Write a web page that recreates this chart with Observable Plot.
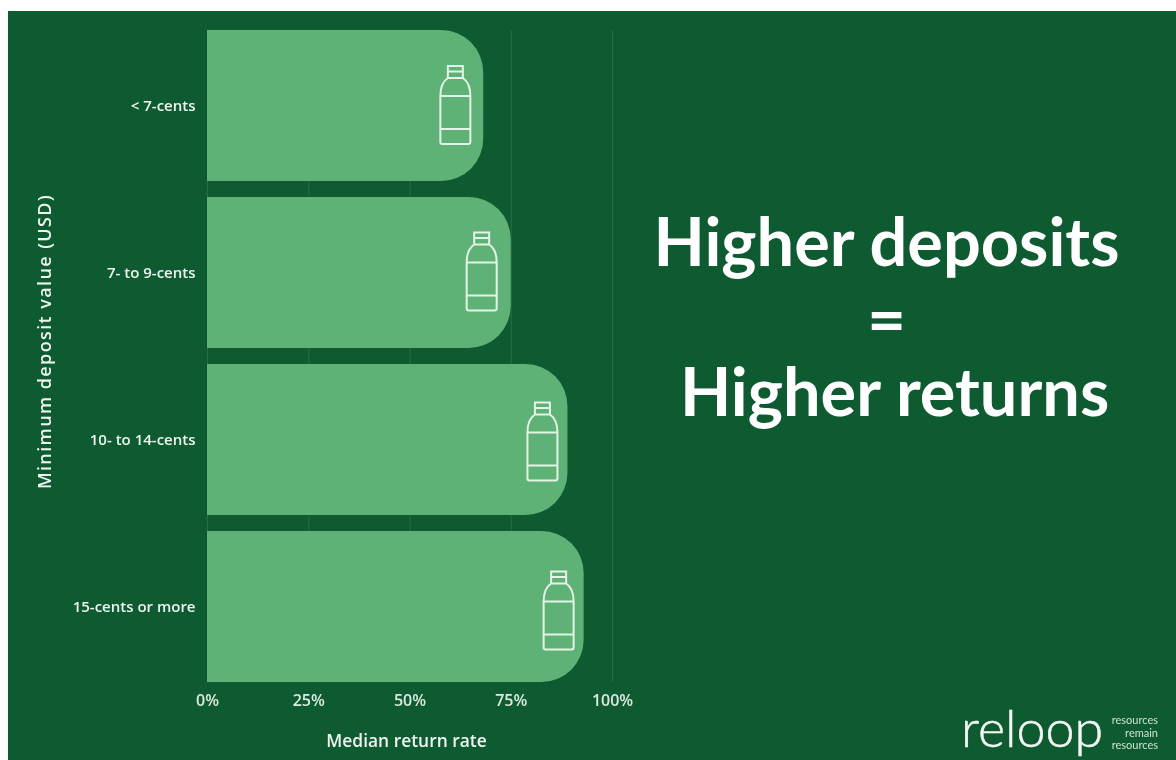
<!DOCTYPE html>
<html>
<head>
<meta charset="utf-8">
<script src="https://cdn.jsdelivr.net/npm/d3@7"></script>
<script src="https://cdn.jsdelivr.net/npm/@observablehq/plot@0.6"></script>
<style>
  html, body { margin: 0; padding: 0; background: #fff; overflow: hidden; }
  #panel { position: absolute; left: 8px; top: 11px; width: 1168px; height: 749px; background: #0e5b31; overflow: hidden; filter: blur(0.45px); font-family: Lato, sans-serif; color: #fff; }
  #chart { position: absolute; left: 0; top: 0; }
  #head { position: absolute; left: 578.5px; top: 192px; width: 600px; text-align: center; white-space: nowrap; font-family: Lato, sans-serif; font-weight: 700; font-size: 66.7px; line-height: 75px; color: #fff; }
  #head span { position: relative; }
  #logo { position: absolute; left: 953px; top: 690px; font-family: Lato, sans-serif; font-weight: 300; font-size: 52px; line-height: 1; color: #f3f7f3; -webkit-text-stroke: 0.5px #f3f7f3; }
  #tag { position: absolute; right: 18px; top: 703px; width: 70px; text-align: right; font-family: Lato, sans-serif; font-size: 11px; line-height: 12.5px; color: #cfe0d3; }
  .ytitle text { letter-spacing: 1.4px; }
</style>
</head>
<body>
<div id="panel">
  <div id="chart"></div>
  <div id="head">Higher deposits<br><span style="top:3px">=</span><br><span>&nbsp;Higher returns</span></div>
  <div id="logo">reloop</div>
  <div id="tag">resources<br>remain<br>resources</div>
</div>
<script>
const categories = ["< 7-cents", "7- to 9-cents", "10- to 14-cents", "15-cents or more"];
const returnRates = [68.2, 75, 89, 93];
const bottlePositions = [61.2, 67.7, 82.7, 86.7];
const bottleNudge = [-1, -1.5, 1.5, 3.5];
const tickValues = [0, 25, 50, 75, 100];
const xTitle = ["Median return rate"];
const yTitle = ["Minimum deposit value (USD)"];

const table = categories.map((c, i) => ({category: c, rate: returnRates[i], bottle: bottlePositions[i], nudge: bottleNudge[i]}));

const bottle = {
  draw(ctx) {
    // cap
    ctx.moveTo(-7.5, -27); ctx.lineTo(-7.5, -39); ctx.lineTo(7.5, -39); ctx.lineTo(7.5, -27);
    ctx.moveTo(-7.5, -33.5); ctx.lineTo(7.5, -33.5);
    // outline
    ctx.moveTo(-7.5, -27);
    ctx.lineTo(7.5, -27);
    ctx.bezierCurveTo(12, -24, 15, -17, 15, -9);
    ctx.lineTo(15, 37);
    ctx.quadraticCurveTo(15, 39, 13, 39);
    ctx.lineTo(-13, 39);
    ctx.quadraticCurveTo(-15, 39, -15, 37);
    ctx.lineTo(-15, -9);
    ctx.bezierCurveTo(-15, -17, -12, -24, -7.5, -27);
    // bands
    ctx.moveTo(-15, -9); ctx.lineTo(15, -9);
    ctx.moveTo(-15, 24); ctx.lineTo(15, 24);
  }
};

const labelFont = "'Open Sans', sans-serif";

const plot = Plot.plot({
  width: 1168,
  height: 749,
  marginLeft: 199,
  marginRight: 564,
  marginTop: 19,
  marginBottom: 78,
  style: {background: "transparent", fontFamily: labelFont, overflow: "visible"},
  x: {domain: [0, 100], label: null},
  y: {domain: categories, paddingInner: 0.096, paddingOuter: 0, label: null},
  marks: [
    Plot.ruleX(tickValues, {stroke: "#2a6e45", strokeWidth: 1}),
    Plot.barX(table, {x: "rate", y: "category", fill: "#5fb276", rx2: 42}),
    ...table.map(d => Plot.dot([d], {
      x: "bottle", y: "category", symbol: bottle, r: 10, fill: "none",
      stroke: "#e4f3e8", strokeWidth: 2, dy: d.nudge
    })),
    Plot.axisX({
      anchor: "bottom", ticks: tickValues, tickFormat: d => d + "%", tickSize: 0, tickPadding: 12,
      fontFamily: labelFont, fontSize: 16, fontWeight: 600, color: "#dce9df", label: null
    }),
    Plot.axisY({
      anchor: "left", tickSize: 0, tickPadding: 12,
      fontFamily: labelFont, fontSize: 15, fontWeight: 600, color: "#eef5ef", label: null
    }),
    Plot.text(xTitle, {
      frameAnchor: "bottom", dx: -3.5, dy: 64, text: d => d,
      fontFamily: labelFont, fontSize: 17.4, fontWeight: 600, fill: "#eef5ef"
    }),
    Plot.text(yTitle, {
      frameAnchor: "left", dx: -162, dy: -15, rotate: -90, textAnchor: "middle", text: d => d,
      className: "ytitle", fontFamily: labelFont, fontSize: 18, fontWeight: 600, fill: "#eef5ef"
    })
  ]
});
document.getElementById("chart").appendChild(plot);
</script>
</body>
</html>
